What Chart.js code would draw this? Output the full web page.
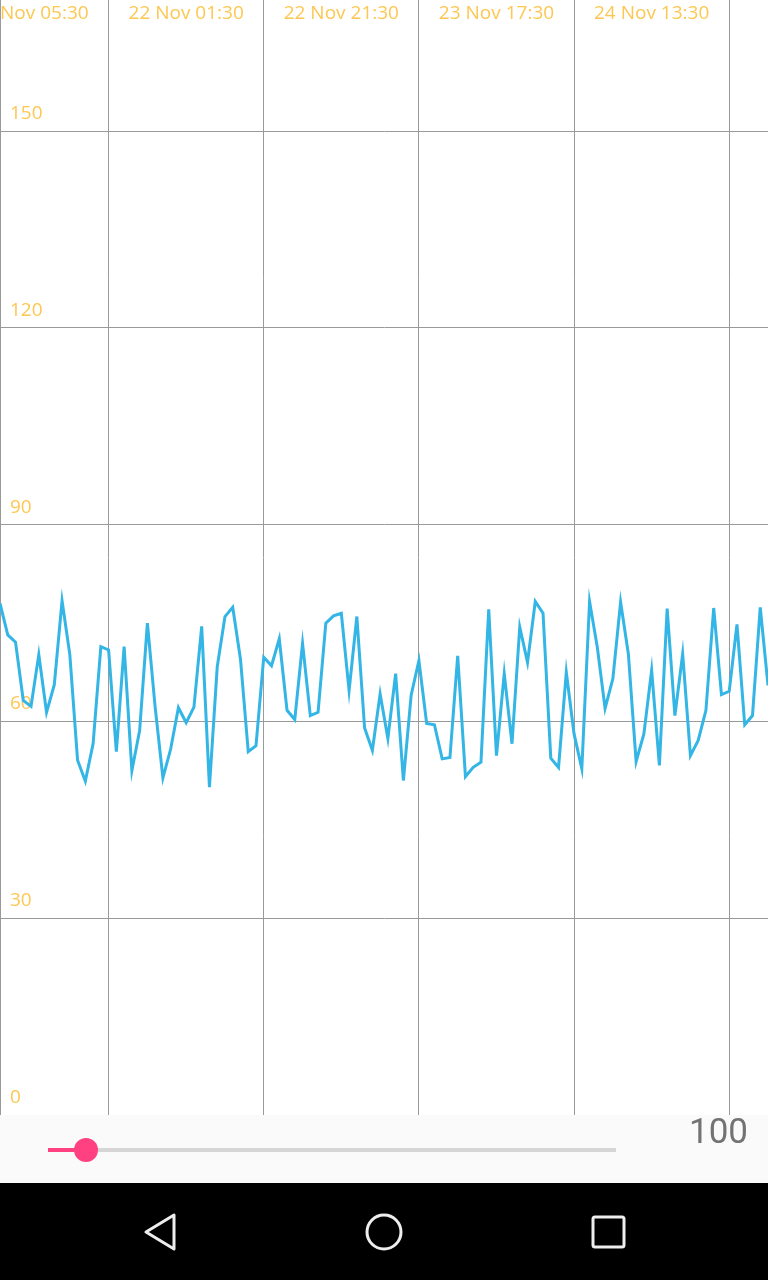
<!DOCTYPE html>
<html>
<head>
<meta charset="utf-8">
<script src="https://cdn.jsdelivr.net/npm/chart.js@4.4.0/dist/chart.umd.min.js"></script>
<style>
  html, body { margin: 0; padding: 0; background: #fff; }
  body { width: 768px; height: 1280px; position: relative; overflow: hidden; font-family: Roboto, sans-serif; }
  #grafico { position: absolute; left: 0; top: 0; }
  #barra { position: absolute; left: 0; top: 1115px; width: 768px; height: 68px; background: #fafafa; }
  #pista { position: absolute; left: 48px; top: 33px; width: 568px; height: 4px; background: #d6d6d6; }
  #pistaActiva { position: absolute; left: 48px; top: 33px; width: 38px; height: 4px; background: #ff4081; }
  #pulgar { position: absolute; left: 74px; top: 23px; width: 24px; height: 24px; border-radius: 50%; background: #ff4081; }
  #valor { position: absolute; right: 20px; top: -4px; font-size: 35px; color: #737373; }
  #nav { position: absolute; left: 0; top: 1183px; width: 768px; height: 97px; background: #000; }
</style>
</head>
<body>
<canvas id="grafico" width="768" height="1115"></canvas>
<div id="barra">
  <div id="pista"></div>
  <div id="pistaActiva"></div>
  <div id="pulgar"></div>
  <div id="valor">100</div>
</div>
<div id="nav">
  <svg width="768" height="97">
    <g fill="none" stroke="#eeeeee" stroke-width="3" stroke-linejoin="round">
      <polygon points="146,49 174,32 174,66" />
      <circle cx="384" cy="49" r="17" />
      <rect x="593" y="34" width="31" height="30" rx="2" />
    </g>
  </svg>
</div>
<script>
// valores por hora (100 lecturas)
const valores = [
  78.0, 73.2, 72.1, 63.2, 62.3, 70.2, 61.4, 65.6, 78.4, 70.2,
  54.1, 50.9, 56.6, 71.4, 70.9, 55.4, 71.4, 52.5, 58.6, 75.0,
  62.2, 51.4, 55.8, 62.1, 59.8, 62.2, 74.5, 50.0, 68.3, 76.0,
  77.4, 69.5, 55.4, 56.3, 69.8, 68.5, 72.6, 61.7, 60.3, 71.9,
  60.9, 61.4, 75.0, 76.1, 76.5, 64.7, 76.0, 59.0, 55.6, 64.2,
  57.4, 67.3, 51.0, 64.0, 69.3, 59.7, 59.5, 54.3, 54.5, 70.0,
  51.6, 53.0, 53.8, 77.1, 54.8, 67.3, 56.6, 74.4, 69.0, 78.3,
  76.5, 54.4, 53.0, 67.5, 58.1, 52.8, 78.3, 71.3, 62.0, 66.5,
  78.2, 70.3, 53.9, 58.1, 67.8, 53.3, 77.2, 60.9, 70.3, 54.8,
  57.1, 61.7, 77.3, 64.1, 64.6, 74.8, 59.5, 60.9, 77.4, 65.5
];
const etiquetasX = ["21 Nov 05:30", "22 Nov 01:30", "22 Nov 21:30", "23 Nov 17:30", "24 Nov 13:30"];
const posEtiquetasX = [4, 24, 44, 64, 84];
const lineasX = [14, 34, 54, 74, 94];
const ticksY = [0, 30, 60, 90, 120, 150];

const colorTexto = "#fdc751";
const colorRejilla = "#9a9a9a";

// etiquetas dentro del area, como en la app
const etiquetasPlugin = {
  id: "etiquetas",
  beforeDatasetsDraw(chart) {
    const ctx = chart.ctx;
    const sx = chart.scales.x;
    const sy = chart.scales.y;
    ctx.save();
    ctx.fillStyle = colorTexto;
    ctx.font = "19px 'Open Sans'";
    ctx.textBaseline = "alphabetic";
    ctx.textAlign = "left";
    ticksY.forEach(v => {
      ctx.fillText(String(v), 10, sy.getPixelForValue(v) - 12);
    });
    ctx.textAlign = "center";
    etiquetasX.forEach((t, i) => {
      ctx.fillText(t, sx.getPixelForValue(posEtiquetasX[i]), 19);
    });
    ctx.restore();
  }
};

new Chart(document.getElementById("grafico").getContext("2d"), {
  type: "line",
  data: {
    datasets: [{
      data: valores.map((v, i) => ({ x: i, y: v })),
      borderColor: "#33b5e5",
      borderWidth: 3,
      pointRadius: 0,
      tension: 0,
      fill: false
    }]
  },
  options: {
    responsive: false,
    animation: false,
    layout: { padding: 0 },
    plugins: { legend: { display: false }, tooltip: { enabled: false } },
    scales: {
      x: {
        type: "linear",
        position: "top",
        min: 0,
        max: valores.length - 1,
        ticks: { display: false },
        grid: { color: colorRejilla, drawTicks: false, lineWidth: 1 },
        border: { display: false },
        afterBuildTicks: s => { s.ticks = lineasX.map(v => ({ value: v })); }
      },
      y: {
        min: 0,
        max: 170,
        ticks: { display: false },
        grid: {
          color: c => (c.tick && c.tick.value === 0) ? "rgba(0,0,0,0)" : colorRejilla,
          drawTicks: false,
          lineWidth: 1
        },
        border: { display: true, color: colorRejilla },
        afterBuildTicks: s => { s.ticks = ticksY.map(v => ({ value: v })); }
      }
    }
  },
  plugins: [etiquetasPlugin]
});
</script>
</body>
</html>
